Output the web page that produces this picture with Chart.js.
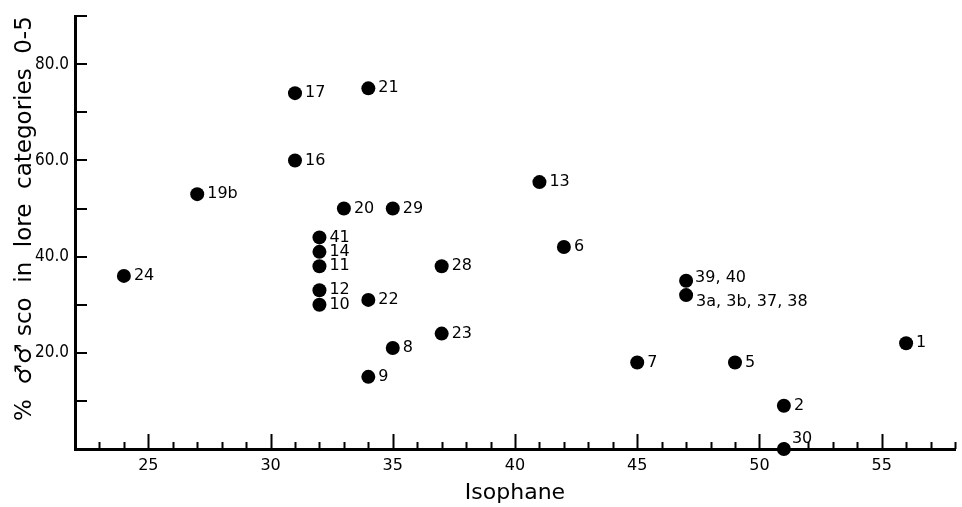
<!DOCTYPE html>
<html>
<head>
<meta charset="utf-8">
<script src="https://cdn.jsdelivr.net/npm/chart.js@4.4.0/dist/chart.umd.min.js"></script>
<style>
  html, body { margin: 0; padding: 0; background: #fff; }
</style>
</head>
<body>
<canvas id="chart" width="962" height="507"></canvas>
<script>
// names printed next to each dot
const pointLabels = ['1', '2', '3a, 3b, 37, 38', '39, 40', '5', '6', '7', '8', '9', '10', '11', '12', '13',
                     '14', '16', '17', '19b', '20', '21', '22', '23', '24', '28', '29', '30', '41'];
// isophane value of each population
const isophane = [56, 51, 47, 47, 49, 42, 45, 35, 34, 32, 32, 32, 41,
                  32, 31, 31, 27, 33, 34, 34, 37, 24, 37, 35, 51, 32];
// % of males scored in lore categories 0-5
const percentSco = [22, 9, 32, 35, 18, 42, 18, 21, 15, 30, 38, 33, 55.5,
                    41, 60, 74, 53, 50, 75, 31, 24, 36, 38, 50, 0, 44];

const xTickValues = [25, 30, 35, 40, 45, 50, 55];
const yTickValues = [20, 40, 60, 80];

const FONT = "'DejaVu Sans', sans-serif";

// a few labels sit above / below their dot instead of beside it
const labelShift = {
  '30': [8, -10],
  '39, 40': [9, -3],
  '3a, 3b, 37, 38': [10, 7]
};

// ticks point inward; every unit on x (long at multiples of 5), every 10 on y
const tickMarks = {
  id: 'tickMarks',
  beforeDatasetsDraw(chart) {
    const ctx = chart.ctx;
    const xs = chart.scales.x, ys = chart.scales.y;
    const area = chart.chartArea;
    ctx.save();
    ctx.strokeStyle = '#000';
    ctx.lineWidth = 2;
    ctx.beginPath();
    for (let v = Math.ceil(xs.min); v <= xs.max; v++) {
      if (v === xs.min) continue;
      const px = Math.round(xs.getPixelForValue(v)) + 0.5;
      const len = v % 5 === 0 ? 15 : 7;
      ctx.moveTo(px, area.bottom);
      ctx.lineTo(px, area.bottom - len);
    }
    for (let v = 10; v <= ys.max; v += 10) {
      const py = Math.round(ys.getPixelForValue(v));
      ctx.moveTo(area.left, py);
      ctx.lineTo(area.left + 12, py);
    }
    ctx.stroke();
    ctx.restore();
  }
};

const pointNames = {
  id: 'pointNames',
  afterDatasetsDraw(chart) {
    const ctx = chart.ctx;
    const meta = chart.getDatasetMeta(0);
    ctx.save();
    ctx.fillStyle = '#000';
    ctx.font = '16px ' + FONT;
    ctx.textAlign = 'left';
    ctx.textBaseline = 'middle';
    meta.data.forEach((el, i) => {
      const name = pointLabels[i];
      const shift = labelShift[name] || [10, 0];
      ctx.fillText(name, el.x + shift[0], el.y + shift[1]);
    });
    ctx.restore();
  }
};

new Chart(document.getElementById('chart'), {
  type: 'scatter',
  data: {
    datasets: [{
      data: isophane.map((x, i) => ({ x: x, y: percentSco[i] })),
      backgroundColor: '#000',
      borderColor: '#000',
      borderWidth: 0,
      pointRadius: 7,
      pointHoverRadius: 7,
      clip: false
    }]
  },
  options: {
    responsive: false,
    animation: false,
    layout: { padding: { top: 8, right: 5, left: 0, bottom: 0 } },
    plugins: {
      legend: { display: false },
      tooltip: { enabled: false }
    },
    scales: {
      x: {
        type: 'linear',
        min: 22,
        max: 58,
        afterBuildTicks: s => { s.ticks = xTickValues.map(v => ({ value: v })); },
        afterFit: s => { s.height = 58; },
        grid: { drawOnChartArea: false, drawTicks: false },
        border: { display: true, color: '#000', width: 3 },
        ticks: { color: '#000', padding: 7, font: { family: FONT, size: 16 } },
        title: {
          display: true,
          text: 'Isophane',
          color: '#000',
          padding: { top: 0, bottom: 1 },
          font: { family: FONT, size: 22 }
        }
      },
      y: {
        min: 0,
        max: 90,
        afterBuildTicks: s => { s.ticks = yTickValues.map(v => ({ value: v })); },
        afterFit: s => { s.width = 75; },
        grid: { drawOnChartArea: false, drawTicks: false },
        border: { display: true, color: '#000', width: 3 },
        ticks: {
          color: '#000',
          padding: 6,
          font: { family: "'DejaVu Sans Condensed', " + FONT, size: 17 },
          callback: v => v.toFixed(1)
        },
        title: {
          display: true,
          text: '%  \u2642\u2642 sco  in  lore  categories  0-5',
          align: 'end',
          color: '#000',
          padding: { top: 11, bottom: 0 },
          font: { family: FONT, size: 23 }
        }
      }
    }
  },
  plugins: [tickMarks, pointNames]
});
</script>
</body>
</html>
